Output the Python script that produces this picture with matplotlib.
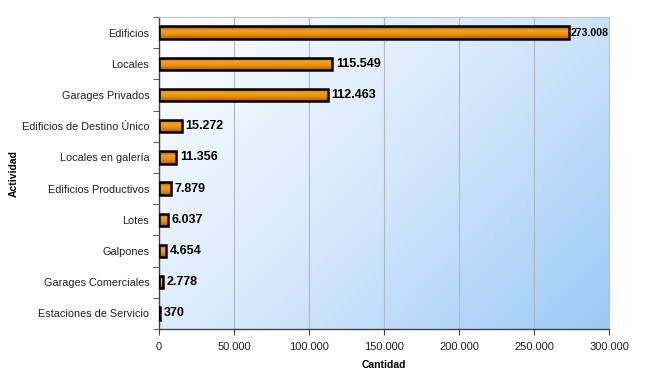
import matplotlib.pyplot as plt
import numpy as np
from matplotlib.colors import LinearSegmentedColormap
from matplotlib.ticker import FuncFormatter

plt.rcParams['font.family'] = ['Liberation Sans', 'DejaVu Sans']

categorias = ['Edificios', 'Locales', 'Garages Privados', 'Edificios de Destino Único',
              'Locales en galería', 'Edificios Productivos', 'Lotes', 'Galpones',
              'Garages Comerciales', 'Estaciones de Servicio']
cantidades = [273008, 115549, 112463, 15272, 11356, 7879, 6037, 4654, 2778, 370]
etiquetas = ['273.008', '115.549', '112.463', '15.272', '11.356', '7.879', '6.037',
             '4.654', '2.778', '370']


def miles(v, pos):
    return '{:,.0f}'.format(v).replace(',', '.')


fig = plt.figure(figsize=(6.46, 3.74), dpi=100)
ax = fig.add_axes([159 / 646, 1 - 329 / 374, 450 / 646, 312 / 374])

n = len(categorias)
y = np.arange(n)[::-1]

# fondo degradado blanco -> celeste
gx, gy = np.meshgrid(np.linspace(0, 1, 200), np.linspace(0, 1, 200))
g = (gx * 0.6 + gy * 0.4)
fondo = LinearSegmentedColormap.from_list('fondo', ['#ffffff', '#d6e8fb', '#9ccaf7'])
ax.imshow(g, cmap=fondo, extent=[0, 300000, -0.5, n - 0.5], aspect='auto',
          origin='upper', zorder=0)

ax.grid(axis='x', color='#b0b8c2', linewidth=0.8, zorder=1)
ax.set_axisbelow(True)

barras = ax.barh(y, cantidades, height=0.4, color='#e08a00', edgecolor='black',
                 linewidth=1.8, zorder=3)

naranja = LinearSegmentedColormap.from_list('nar', ['#8a4c00', '#f5a21c', '#e8900a', '#a85e00'])
grad = np.linspace(0, 1, 50).reshape(-1, 1)
for b in barras:
    im = ax.imshow(grad, cmap=naranja, aspect='auto', origin='upper', zorder=3.5,
                   extent=[b.get_x(), b.get_x() + b.get_width(), b.get_y(), b.get_y() + b.get_height()])
    im.set_clip_path(b)
    b.set_facecolor('none')
    b.set_zorder(4)

for b, t, v in zip(barras, etiquetas, cantidades):
    if v > 200000:
        ax.text(v + 1500, b.get_y() + b.get_height() / 2, t, va='center', ha='left',
                fontsize=7.6, fontweight='bold', zorder=5)
    else:
        ax.text(v + 2500, b.get_y() + b.get_height() / 2, t, va='center', ha='left',
                fontsize=9, fontweight='bold', zorder=5)

ax.set_xlim(0, 300000)
ax.set_ylim(-0.5, n - 0.5)
ax.set_xticks(np.arange(0, 300001, 50000))
ax.xaxis.set_major_formatter(FuncFormatter(miles))
ax.set_yticks(y)
ax.set_yticklabels(categorias)
ax.set_yticks(np.arange(-0.5, n, 1), minor=True)
ax.tick_params(axis='y', which='major', length=0, pad=7, labelsize=7.8, labelcolor='#222222')
ax.tick_params(axis='y', which='minor', length=4, color='#444444')
ax.tick_params(axis='x', length=4, pad=5, labelsize=8, labelcolor='#222222', color='#444444')

for s in ['left', 'bottom']:
    ax.spines[s].set_color('#444444')
    ax.spines[s].set_linewidth(1.0)
for s in ['top', 'right']:
    ax.spines[s].set_color('#c0c0c0')
    ax.spines[s].set_linewidth(0.8)

ax.set_xlabel('Cantidad', fontsize=7.5, fontweight='bold', labelpad=6)
fig.text(14 / 646, 1 - 173 / 374, 'Actividad', rotation=90, fontsize=7.5,
         fontweight='bold', va='center', ha='center')

fig.savefig('out.png', dpi=100)
